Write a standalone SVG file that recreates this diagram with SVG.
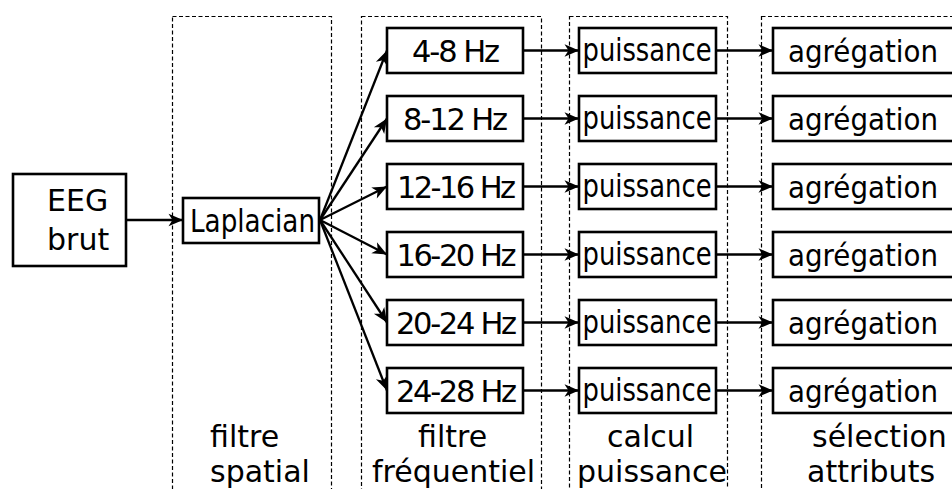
<svg xmlns="http://www.w3.org/2000/svg" width="952" height="489" viewBox="0 0 952 489">
<style>
  .box { fill: #fff; stroke: #000; stroke-width: 2.6; }
  .stage { fill: none; stroke: #000; stroke-width: 1.2; stroke-dasharray: 4 2.5; }
  .t { font-family: "DejaVu Sans", sans-serif; font-size: 32px; fill: #000; }
  .a { font-family: "DejaVu Sans", sans-serif; font-size: 31px; fill: #000; }
  .f { font-family: "DejaVu Sans", sans-serif; font-size: 30.5px; fill: #000; text-anchor: middle; }
  .c { text-anchor: middle; }
  .lbl { font-family: "DejaVu Sans", sans-serif; font-size: 30px; fill: #000; }
  .arr { fill: none; stroke: #000; stroke-width: 2.3; marker-end: url(#ah); }
</style>
<defs>
  <marker id="ah" markerUnits="userSpaceOnUse" markerWidth="18" markerHeight="16" viewBox="-16 -8 18 16" refX="0" refY="0" orient="auto">
    <path d="M0,0 L-14.5,-6.2 L-10.5,0 L-14.5,6.2 Z" fill="#000"/>
  </marker>
</defs>
<rect width="952" height="489" fill="#fff"/>
<g id="stages">
  <rect class="stage" x="172.5" y="16.5" width="159" height="500"/>
  <rect class="stage" x="361.5" y="16.5" width="180" height="500"/>
  <rect class="stage" x="569.5" y="16.5" width="158" height="500"/>
  <rect class="stage" x="761.5" y="16.5" width="220" height="500"/>
</g>
<g id="connectors">
  <line class="arr" x1="126" y1="220" x2="183" y2="220"/>
  <line class="arr" x1="320" y1="220" x2="387" y2="50.5"/>
  <line class="arr" x1="320" y1="220" x2="387" y2="118.5"/>
  <line class="arr" x1="320" y1="220" x2="387" y2="186.5"/>
  <line class="arr" x1="320" y1="220" x2="387" y2="254.5"/>
  <line class="arr" x1="320" y1="220" x2="387" y2="322.5"/>
  <line class="arr" x1="320" y1="220" x2="387" y2="390.5"/>
  <line class="arr" x1="523" y1="50.5" x2="579" y2="50.5"/>
  <line class="arr" x1="523" y1="118.5" x2="579" y2="118.5"/>
  <line class="arr" x1="523" y1="186.5" x2="579" y2="186.5"/>
  <line class="arr" x1="523" y1="254.5" x2="579" y2="254.5"/>
  <line class="arr" x1="523" y1="322.5" x2="579" y2="322.5"/>
  <line class="arr" x1="523" y1="390.5" x2="579" y2="390.5"/>
  <line class="arr" x1="716" y1="50.5" x2="773" y2="50.5"/>
  <line class="arr" x1="716" y1="118.5" x2="773" y2="118.5"/>
  <line class="arr" x1="716" y1="186.5" x2="773" y2="186.5"/>
  <line class="arr" x1="716" y1="254.5" x2="773" y2="254.5"/>
  <line class="arr" x1="716" y1="322.5" x2="773" y2="322.5"/>
  <line class="arr" x1="716" y1="390.5" x2="773" y2="390.5"/>
</g>
<g id="eeg">
  <rect class="box" x="13" y="174" width="113" height="92"/>
  <text class="lbl" x="47" y="211">EEG</text>
  <text class="lbl" x="47" y="250">brut</text>
</g>
<g id="laplacian">
  <rect class="box" x="183" y="198" width="136" height="45"/>
  <text class="t c" x="252.5" y="232" font-size="33" textLength="125" lengthAdjust="spacingAndGlyphs">Laplacian</text>
</g>
<g id="f1"><rect class="box" x="387" y="28" width="136" height="45"/><text class="f" x="456" y="61.5" textLength="88" lengthAdjust="spacing">4-8 Hz</text></g>
<g id="f2"><rect class="box" x="387" y="96" width="136" height="45"/><text class="f" x="455.5" y="129.5" textLength="105" lengthAdjust="spacing">8-12 Hz</text></g>
<g id="f3"><rect class="box" x="387" y="164" width="136" height="45"/><text class="f" x="456.5" y="197.5" textLength="119" lengthAdjust="spacing">12-16 Hz</text></g>
<g id="f4"><rect class="box" x="387" y="232" width="136" height="45"/><text class="f" x="456.5" y="265.5" textLength="120" lengthAdjust="spacing">16-20 Hz</text></g>
<g id="f5"><rect class="box" x="387" y="300" width="136" height="45"/><text class="f" x="456.5" y="333.5" textLength="121" lengthAdjust="spacing">20-24 Hz</text></g>
<g id="f6"><rect class="box" x="387" y="368" width="136" height="45"/><text class="f" x="456.5" y="401.5" textLength="121" lengthAdjust="spacing">24-28 Hz</text></g>
<g id="p1"><rect class="box" x="579" y="28" width="137" height="45"/><text class="t c" x="647" y="60.5" textLength="129" lengthAdjust="spacingAndGlyphs">puissance</text></g>
<g id="p2"><rect class="box" x="579" y="96" width="137" height="45"/><text class="t c" x="647" y="128.5" textLength="129" lengthAdjust="spacingAndGlyphs">puissance</text></g>
<g id="p3"><rect class="box" x="579" y="164" width="137" height="45"/><text class="t c" x="647" y="196.5" textLength="129" lengthAdjust="spacingAndGlyphs">puissance</text></g>
<g id="p4"><rect class="box" x="579" y="232" width="137" height="45"/><text class="t c" x="647" y="264.5" textLength="129" lengthAdjust="spacingAndGlyphs">puissance</text></g>
<g id="p5"><rect class="box" x="579" y="300" width="137" height="45"/><text class="t c" x="647" y="332.5" textLength="129" lengthAdjust="spacingAndGlyphs">puissance</text></g>
<g id="p6"><rect class="box" x="579" y="368" width="137" height="45"/><text class="t c" x="647" y="400.5" textLength="129" lengthAdjust="spacingAndGlyphs">puissance</text></g>
<g id="a1"><rect class="box" x="773" y="28" width="200" height="45"/><text class="a" x="788" y="61.5" textLength="150" lengthAdjust="spacingAndGlyphs">agrégation</text></g>
<g id="a2"><rect class="box" x="773" y="96" width="200" height="45"/><text class="a" x="788" y="129.5" textLength="150" lengthAdjust="spacingAndGlyphs">agrégation</text></g>
<g id="a3"><rect class="box" x="773" y="164" width="200" height="45"/><text class="a" x="788" y="197.5" textLength="150" lengthAdjust="spacingAndGlyphs">agrégation</text></g>
<g id="a4"><rect class="box" x="773" y="232" width="200" height="45"/><text class="a" x="788" y="265.5" textLength="150" lengthAdjust="spacingAndGlyphs">agrégation</text></g>
<g id="a5"><rect class="box" x="773" y="300" width="200" height="45"/><text class="a" x="788" y="333.5" textLength="150" lengthAdjust="spacingAndGlyphs">agrégation</text></g>
<g id="a6"><rect class="box" x="773" y="368" width="200" height="45"/><text class="a" x="788" y="401.5" textLength="150" lengthAdjust="spacingAndGlyphs">agrégation</text></g>
<g id="labels">
  <text class="lbl" x="210" y="447">filtre</text>
  <text class="lbl" x="210" y="482">spatial</text>
  <text class="lbl" x="418" y="447">filtre</text>
  <text class="lbl" x="372" y="482">fréquentiel</text>
  <text class="lbl" x="607" y="447">calcul</text>
  <text class="lbl" x="577" y="482">puissance</text>
  <text class="lbl" x="812" y="447">sélection</text>
  <text class="lbl" x="807" y="482">attributs</text>
</g>
</svg>
